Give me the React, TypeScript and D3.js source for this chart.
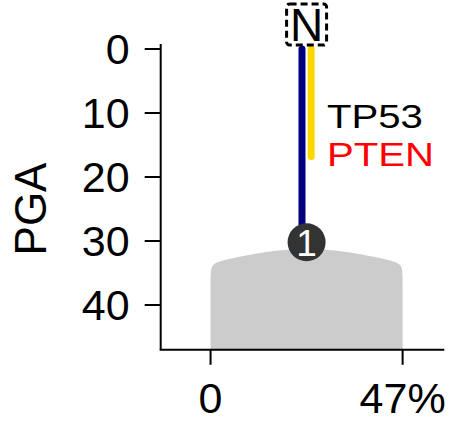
import React from "react";
import * as d3 from "d3";

// ---- data ----
const yTicks = [0, 10, 20, 30, 40];
const xTicks = [0, 47];
const xTickLabels = ["0", "47%"];
const yLabel = "PGA";

const clusterLabel = "1";
const clusterFraction = 47; // % of samples
const clusterPGA = 30.2;

// outline of the grey density block (x in %, y in PGA)
const shapeXs = [0, 0, 0, 0, 0, 3, 23.5, 44, 47, 47, 47, 47, 47];
const shapeYs = [47, 47, 47, 36, 33.6, 32.9, 30.4, 32.9, 33.6, 36, 47, 47, 47];

const genes = ["TP53", "PTEN"];
const geneLabelColors = ["#000000", "#ff0000"];
const lineColors = ["#00007f", "#ffd700"];
const lineEnds = [30.2, 16.8];
const rootLabel = "N";

const W = 455;
const H = 422;
const FONT = "'Liberation Sans', Arial, Helvetica, sans-serif";

export default function App() {
  const x = d3.scaleLinear().domain([-12.2, 57.2]).range([160.7, 444.3]);
  const y = d3.scaleLinear().domain([-0.8, 47]).range([43.9, 349.8]);

  const axisX = x.range()[0];
  const axisY = y.range()[1];

  const outline = d3
    .line<number>()
    .x((_, i) => x(shapeXs[i]))
    .y((_, i) => y(shapeYs[i]))
    .curve(d3.curveBasis)(shapeXs);

  const cx = x(clusterFraction / 2);
  const cy = y(clusterPGA);
  const offsets = [-4.6, 4.6];

  return (
    <svg
      width={W}
      height={H}
      style={{ position: "absolute", left: 0, top: 0, background: "#fff" }}
      fontFamily={FONT}
    >
      {/* grey block */}
      <path d={outline || ""} fill="#cccccc" stroke="none" />

      {/* mutation lines */}
      {genes.map((g, i) => (
        <line
          key={g}
          x1={cx + offsets[i]}
          x2={cx + offsets[i]}
          y1={y(0)}
          y2={y(lineEnds[i])}
          stroke={lineColors[i]}
          strokeWidth={7}
          strokeLinecap="round"
        />
      ))}

      {/* cluster node */}
      <circle cx={cx} cy={cy} r={19} fill="#333333" />
      <text
        x={cx}
        y={cy}
        dy="0.36em"
        textAnchor="middle"
        fill="#ffffff"
        fontSize={37}
      >
        {clusterLabel}
      </text>

      {/* root box */}
      <rect
        x={cx - 20}
        y={4}
        width={40}
        height={41}
        rx={3}
        fill="#ffffff"
        stroke="#000"
        strokeWidth={3}
        strokeDasharray="7,4"
      />
      <text x={cx} y={41} textAnchor="middle" fontSize={46} fill="#000">
        {rootLabel}
      </text>

      {/* gene labels */}
      {genes.map((g, i) => (
        <text
          key={g}
          transform={`translate(327,${128 + i * 38}) scale(1.18,1)`}
          fontSize={34}
          fill={geneLabelColors[i]}
        >
          {g}
        </text>
      ))}

      {/* y axis */}
      <line x1={axisX} x2={axisX} y1={y.range()[0]} y2={axisY} stroke="#000" strokeWidth={2} />
      {yTicks.map((t) => (
        <g key={t}>
          <line x1={axisX - 16} x2={axisX} y1={y(t)} y2={y(t)} stroke="#000" strokeWidth={2} />
          <text
            x={axisX - 31}
            y={y(t)}
            dy="0.36em"
            textAnchor="end"
            fontSize={43}
            fill="#000"
          >
            {t}
          </text>
        </g>
      ))}

      {/* x axis */}
      <line x1={axisX - 1} x2={x.range()[1]} y1={axisY} y2={axisY} stroke="#000" strokeWidth={2} />
      {xTicks.map((t, i) => (
        <g key={t}>
          <line x1={x(t)} x2={x(t)} y1={axisY} y2={axisY + 15} stroke="#000" strokeWidth={2} />
          <text x={x(t)} y={413} textAnchor="middle" fontSize={43} fill="#000">
            {xTickLabels[i]}
          </text>
        </g>
      ))}

      {/* y label */}
      <text
        transform={`translate(46,209) rotate(-90)`}
        textAnchor="middle"
        fontSize={44}
        fill="#000"
      >
        {yLabel}
      </text>
    </svg>
  );
}
